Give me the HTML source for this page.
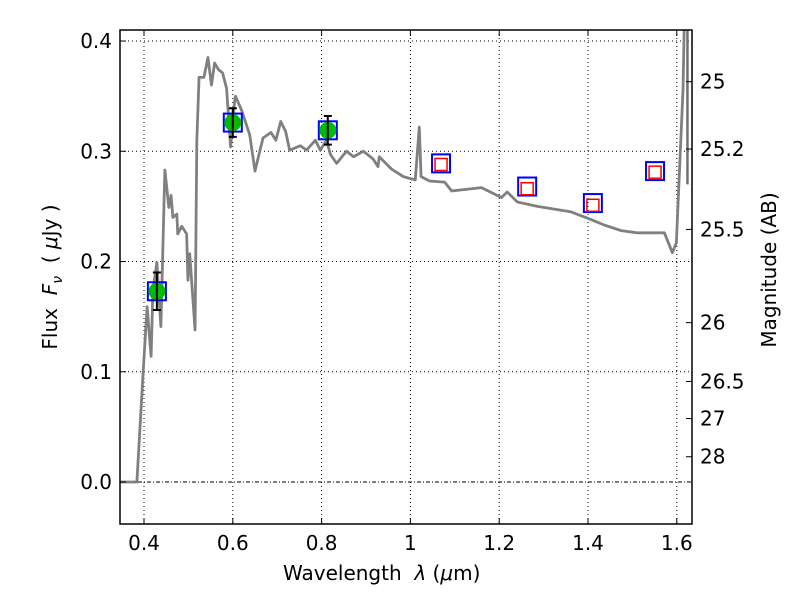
<!DOCTYPE html>
<html><head><meta charset="utf-8"><style>
body{margin:0;background:#fff;}
svg{display:block;font-family:"DejaVu Sans","Liberation Sans",sans-serif;}
</style></head><body>
<svg id="c" width="800" height="600"></svg>
<script>
const specLam=[0.346,0.384,0.398,0.407,0.416,0.420,0.429,0.438,0.447,0.456,0.461,0.465,0.474,0.476,0.485,0.496,0.499,0.503,0.515,0.519,0.524,0.535,0.544,0.552,0.559,0.568,0.577,0.586,0.595,0.604,0.606,0.620,0.638,0.650,0.668,0.686,0.697,0.708,0.719,0.728,0.752,0.766,0.786,0.797,0.811,0.820,0.834,0.850,0.856,0.872,0.894,0.916,0.927,0.930,0.957,0.984,1.011,1.020,1.024,1.043,1.077,1.093,1.138,1.160,1.205,1.218,1.241,1.286,1.362,1.407,1.437,1.475,1.511,1.572,1.590,1.599,1.614,1.617,1.620];
const specFlux=[0.000,0.000,0.099,0.159,0.114,0.174,0.199,0.141,0.283,0.249,0.260,0.240,0.243,0.225,0.232,0.225,0.183,0.207,0.138,0.310,0.367,0.367,0.385,0.360,0.380,0.374,0.371,0.357,0.304,0.345,0.350,0.337,0.315,0.282,0.312,0.317,0.310,0.327,0.318,0.301,0.305,0.301,0.310,0.301,0.310,0.297,0.289,0.297,0.300,0.295,0.300,0.293,0.286,0.295,0.284,0.277,0.274,0.322,0.277,0.273,0.272,0.264,0.266,0.267,0.258,0.263,0.254,0.250,0.245,0.238,0.233,0.228,0.226,0.226,0.208,0.217,0.356,0.420,0.420];
const photLam=[0.429,0.600,0.814];
const photFlux=[0.173,0.326,0.319];
const photErr=[0.017,0.013,0.013];
const modelLam=[0.429,0.600,0.814,1.069,1.263,1.411,1.551];
const modelFlux=[0.173,0.326,0.319,0.289,0.268,0.253,0.282];
const predLam=[1.069,1.263,1.411,1.551];
const predFlux=[0.288,0.266,0.251,0.281];
const xTicks=[0.4,0.6,0.8,1.0,1.2,1.4,1.6];
const xTickLabels=["0.4","0.6","0.8","1","1.2","1.4","1.6"];
const yTicks=[0,0.1,0.2,0.3,0.4];
const yTickLabels=["0.0","0.1","0.2","0.3","0.4"];
const magTicks=[25,25.2,25.5,26,26.5,27,28];
const magTickLabels=["25","25.2","25.5","26","26.5","27","28"];

const L=120,R=692,T=30,B=524;
const X=v=>144+(v-0.4)*444;
const Y=v=>482-v*1102.5;
const svg=document.getElementById('c');
const NS='http://www.w3.org/2000/svg';
function mk(tag,attrs,parent){const e=document.createElementNS(NS,tag);for(const k in attrs)e.setAttribute(k,attrs[k]);(parent||svg).appendChild(e);return e;}

const clip=mk('clipPath',{id:'pc'});mk('rect',{x:L,y:T,width:R-L,height:B-T},clip);
const grid=mk('g',{});


xTicks.forEach(v=>mk('line',{x1:X(v),x2:X(v),y1:T,y2:B,stroke:'#000','stroke-width':1,'stroke-dasharray':'1,3'},grid));
yTicks.forEach(v=>mk('line',{x1:L,x2:R,y1:Y(v),y2:Y(v),stroke:'#000','stroke-width':1,'stroke-dasharray':v===0?'4,2,1,2':'1,3'},grid));

const g=mk('g',{'clip-path':'url(#pc)'});
const sp=mk('polyline',{points:specLam.map((l,i)=>X(l)+','+Y(specFlux[i])).join(' '),fill:'none',stroke:'#808080','stroke-width':2.8,'stroke-linejoin':'round'},g);


const sp2=mk('line',{x1:X(1.624),x2:X(1.624),y1:T,y2:Y(0.27),stroke:'#707070','stroke-width':2.5},g);



modelLam.forEach((l,i)=>{const r=mk('rect',{x:X(l)-9,y:Y(modelFlux[i])-9,width:18,height:18,fill:'none',stroke:'#0000ff','stroke-width':2},g);

});
predLam.forEach((l,i)=>{const r=mk('rect',{x:X(l)-6,y:Y(predFlux[i])-6,width:12,height:12,fill:'none',stroke:'#ff0000','stroke-width':1.5},g);

});
photLam.forEach((l,i)=>{
const c=mk('circle',{cx:X(l),cy:Y(photFlux[i]),r:8.5,fill:'#00bb00'},g);


const x=X(l),y1=Y(photFlux[i]+photErr[i]),y2=Y(photFlux[i]-photErr[i]);
const e=mk('path',{d:`M${x},${y1}V${y2}M${x-4},${y1}H${x+4}M${x-4},${y2}H${x+4}`,stroke:'#000','stroke-width':2,fill:'none'},g);

});

mk('rect',{x:L,y:T,width:R-L,height:B-T,fill:'none',stroke:'#000','stroke-width':1.5});
const ax=mk('g',{'font-size':20,fill:'#000'});
xTicks.forEach((v,i)=>{mk('line',{x1:X(v),x2:X(v),y1:B,y2:B-6,stroke:'#000'},ax);mk('line',{x1:X(v),x2:X(v),y1:T,y2:T+6,stroke:'#000'},ax);
const t=mk('text',{x:X(v),y:B+26,'text-anchor':'middle'},ax);t.textContent=xTickLabels[i];

});
yTicks.forEach((v,i)=>{mk('line',{x1:L,x2:L+6,y1:Y(v),y2:Y(v),stroke:'#000'},ax);
const t=mk('text',{x:L-8,y:Y(v)+7,'text-anchor':'end'},ax);t.textContent=yTickLabels[i];

});
magTicks.forEach((m,i)=>{const y=Y(Math.pow(10,(23.9-m)/2.5));mk('line',{x1:R,x2:R-6,y1:y,y2:y,stroke:'#000'},ax);
const t=mk('text',{x:R+8,y:y+7},ax);t.textContent=magTickLabels[i];

});
</script>
<div style="position:absolute;left:0;top:0;width:800px;height:600px;pointer-events:none;font-family:'DejaVu Sans','Liberation Sans',sans-serif;font-size:20px;">
<div style="position:absolute;left:283px;top:561px;white-space:nowrap;">Wavelength&nbsp; <i>λ</i> (<i>μ</i>m)</div>
<div style="position:absolute;left:52px;top:277px;white-space:nowrap;transform:translate(-50%,-50%) rotate(-90deg);">Flux&nbsp; <i>F<sub style="font-size:14px">ν</sub></i>&nbsp; ( <i>μ</i>Jy )</div>
<div style="position:absolute;left:769px;top:270px;white-space:nowrap;transform:translate(-50%,-50%) rotate(-90deg);">Magnitude (AB)</div>
</div>
</body></html>
